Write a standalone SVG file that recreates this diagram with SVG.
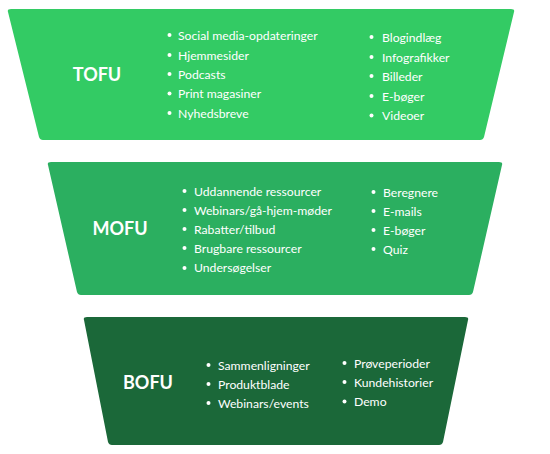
<svg xmlns="http://www.w3.org/2000/svg" width="550" height="454" viewBox="0 0 550 454">
<style>
.t{font-family:Lato,"Open Sans",sans-serif;font-weight:700;font-size:18px;fill:#fff;text-anchor:middle}
.i{font-family:Lato,"Open Sans",sans-serif;font-size:12.2px;fill:#fff}
.b{fill:#fff}
</style>
<rect width="550" height="454" fill="#fff"/>
<g id="tofu">
<path d="M11 9 L511 9 Q515 9 514 12 L484 137 Q483 140 480 140 L43 140 Q40 140 39 137 L8 12 Q7 9 11 9 Z" fill="#33CB64"/>
<text class="t" x="97" y="81">TOFU</text>
<g class="b"><circle cx="169.5" cy="35" r="2"/><circle cx="169.5" cy="55" r="2"/><circle cx="169.5" cy="74" r="2"/><circle cx="169.5" cy="93.5" r="2"/><circle cx="169.5" cy="113" r="2"/>
<circle cx="371.5" cy="37" r="2"/><circle cx="371.5" cy="57" r="2"/><circle cx="371.5" cy="76" r="2"/><circle cx="371.5" cy="96" r="2"/><circle cx="371.5" cy="115.5" r="2"/></g>
<text class="i" x="178" y="39.5">Social media-opdateringer</text>
<text class="i" x="178" y="59.5">Hjemmesider</text>
<text class="i" x="178" y="78.5">Podcasts</text>
<text class="i" x="178" y="98">Print magasiner</text>
<text class="i" x="178" y="117.5">Nyhedsbreve</text>
<text class="i" x="382" y="41.5">Blogindlæg</text>
<text class="i" x="382" y="61.5">Infografikker</text>
<text class="i" x="382" y="80.5">Billeder</text>
<text class="i" x="382" y="100.5">E-bøger</text>
<text class="i" x="382" y="120">Videoer</text>
</g>
<g id="mofu">
<path d="M51 162 L499 162 Q503 162 502 165 L473 292 Q472 295 469 295 L81 295 Q78 295 77 292 L48 165 Q47 162 51 162 Z" fill="#2BAF60"/>
<text class="t" x="120" y="234.5">MOFU</text>
<g class="b"><circle cx="184.5" cy="191" r="2"/><circle cx="184.5" cy="210" r="2"/><circle cx="184.5" cy="229" r="2"/><circle cx="184.5" cy="248" r="2"/><circle cx="184.5" cy="268" r="2"/>
<circle cx="373.5" cy="192" r="2"/><circle cx="373.5" cy="211" r="2"/><circle cx="373.5" cy="230" r="2"/><circle cx="373.5" cy="249" r="2"/></g>
<text class="i" x="194" y="195.5">Uddannende ressourcer</text>
<text class="i" x="194" y="214.5">Webinars/gå-hjem-møder</text>
<text class="i" x="194" y="233.5">Rabatter/tilbud</text>
<text class="i" x="194" y="252.5">Brugbare ressourcer</text>
<text class="i" x="194" y="272">Undersøgelser</text>
<text class="i" x="383" y="196.5">Beregnere</text>
<text class="i" x="383" y="215.5">E-mails</text>
<text class="i" x="383" y="234.5">E-bøger</text>
<text class="i" x="383" y="253.5">Quiz</text>
</g>
<g id="bofu">
<path d="M87 317 L465 317 Q469 317 468 320 L443 442 Q442 445 439 445 L112 445 Q109 445 108 442 L84 320 Q83 317 87 317 Z" fill="#1B6839"/>
<text class="t" x="148" y="389">BOFU</text>
<g class="b"><circle cx="208.5" cy="365" r="2"/><circle cx="208.5" cy="384" r="2"/><circle cx="208.5" cy="403" r="2"/>
<circle cx="344.5" cy="363" r="2"/><circle cx="344.5" cy="382" r="2"/><circle cx="344.5" cy="401.5" r="2"/></g>
<text class="i" x="218" y="369.5">Sammenligninger</text>
<text class="i" x="218" y="388.5">Produktblade</text>
<text class="i" x="218" y="407.5">Webinars/events</text>
<text class="i" x="354" y="367.5">Prøveperioder</text>
<text class="i" x="354" y="386.5">Kundehistorier</text>
<text class="i" x="354" y="406">Demo</text>
</g>
<g id="connectors"></g>
</svg>
